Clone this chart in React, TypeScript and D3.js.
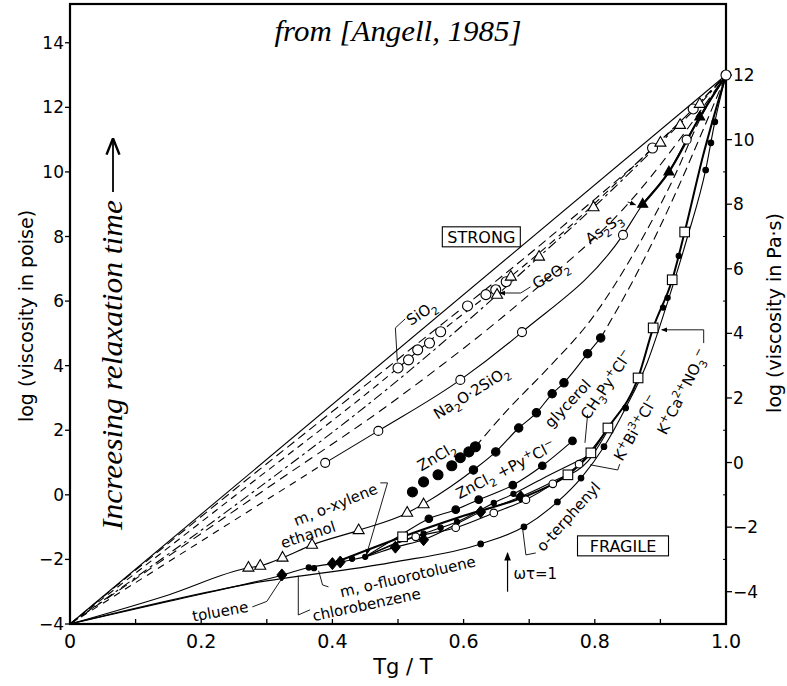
import React from "react";
import * as d3 from "d3";

const W = 787;
const H = 686;

// ---------- axes ----------
const xTicks = [0, 0.2, 0.4, 0.6, 0.8, 1.0];
const xTickLabels = ["0", "0.2", "0.4", "0.6", "0.8", "1.0"];
const xMinorTicks = [0.1, 0.3, 0.5, 0.7, 0.9];
const leftTicks = [-4, -2, 0, 2, 4, 6, 8, 10, 12, 14];
const rightTicks = [-4, -2, 0, 2, 4, 6, 8, 10, 12];
const rightMinor = [-3, -1, 1, 3, 5, 7, 9, 11];

// ---------- curves (x = Tg/T, y = log viscosity in poise) ----------
const sio2Line = [[0, -4], [1, 13]];
const strongDashA = [[0, -4], [0.25, 0.15], [0.5, 4.2], [0.75, 8.3], [0.9, 10.95], [1, 13]];
const sio2DataLine = [[0, -4], [0.25, -0.05], [0.5, 3.93], [0.565, 5.05], [0.65, 6.4], [0.75, 8.1], [0.888, 10.74], [0.95, 11.95], [1, 13]];
const geo2Line = [[0, -4], [0.25, -0.35], [0.5, 3.55], [0.651, 6.19], [0.715, 7.37], [0.798, 8.9], [0.9, 10.9], [0.96, 12.1], [1, 13]];
const strongDashB = [[0, -4], [0.3, 0.2], [0.5, 3.0], [0.7, 6.2], [0.85, 9.0], [1, 13]];
const na2oDashed = [[0, -4], [0.389, 0.99]];
const na2oLine = [[0.389, 0.99], [0.47, 1.98], [0.595, 3.56], [0.689, 5.04], [0.843, 8.05], [0.873, 9.0], [0.913, 10.0], [0.94, 11.0], [1, 13]];
const as2s3Line = [[0.873, 9.0], [0.913, 10.0], [0.96, 11.7], [1, 13]];
const zncl2Dashed = [[0.618, 1.49], [0.667, 2.63], [0.73, 3.95], [0.794, 5.42], [0.86, 7.5], [0.92, 9.8], [0.962, 11.7], [1, 13]];
const ethanolGlycerolLine = [[0, -4], [0.15, -3.1], [0.272, -2.26], [0.29, -2.2], [0.324, -1.95], [0.369, -1.55], [0.44, -1.1], [0.514, -0.56], [0.539, -0.28], [0.58, 0.25], [0.615, 0.77], [0.649, 1.33], [0.684, 2.07], [0.711, 2.54], [0.735, 3.13], [0.753, 3.47], [0.789, 4.37], [0.809, 4.86]];
const glycerolDashed = [[0.809, 4.86], [0.86, 6.7], [0.92, 9.2], [0.965, 11.3], [1, 13]];
const tolueneLine = [[0, -4], [0.15, -3.3], [0.324, -2.48], [0.364, -2.25], [0.4, -2.13], [0.45, -1.92], [0.496, -1.62], [0.539, -1.39], [0.626, -0.53], [0.687, -0.06], [0.74, 0.45], [0.79, 1.05], [0.82, 2.0]];
const fluoroLine = [[0.45, -1.92], [0.496, -1.5], [0.539, -1.2], [0.565, -1.02], [0.59, -0.84], [0.646, -0.25], [0.676, 0.03], [0.72, 0.5], [0.79, 1.2]];
const znPyLine = [[0.45, -1.92], [0.5, -1.3], [0.547, -0.74], [0.588, -0.46], [0.623, -0.15], [0.675, 0.3], [0.72, 0.9], [0.766, 1.67]];
const ch3PyLine = [[0.45, -1.92], [0.527, -1.3], [0.588, -1.02], [0.646, -0.56], [0.695, -0.15], [0.736, 0.34], [0.776, 0.95], [0.82, 2.07]];
const kCaLine = [[0.4, -2.13], [0.507, -1.3], [0.6, -0.65], [0.7, 0.0], [0.759, 0.62], [0.794, 1.3], [0.82, 2.07], [0.866, 3.62], [0.889, 5.17], [0.918, 6.66], [0.937, 8.14], [0.965, 10.5], [1, 13]];
const oTerphenylLine = [[0, -4], [0.275, -2.75], [0.489, -2.1], [0.626, -1.52], [0.692, -0.99], [0.743, -0.22], [0.779, 0.52], [0.814, 1.49], [0.847, 2.69], [0.88, 4.1], [0.911, 5.97], [0.94, 7.9], [0.969, 10.06], [0.983, 11.55], [1, 13]];

// ---------- data markers ----------
const sio2Circles = [[0.5, 3.93], [0.516, 4.18], [0.53, 4.49], [0.548, 4.7], [0.565, 5.05], [0.606, 5.85], [0.634, 6.2], [0.649, 6.35], [0.665, 6.6], [0.888, 10.74], [0.95, 11.95], [1, 13]];
const geo2Triangles = [[0.651, 6.19], [0.672, 6.75], [0.715, 7.37], [0.798, 8.9], [0.9, 10.9], [0.93, 11.45], [0.96, 12.1]];
const na2oCircles = [[0.389, 0.99], [0.47, 1.98], [0.595, 3.56], [0.689, 5.04], [0.843, 8.05], [0.94, 11.0]];
const as2s3Triangles = [[0.873, 9.0], [0.913, 10.0], [0.96, 11.7]];
const zncl2Dots = [[0.522, 0.09], [0.539, 0.4], [0.561, 0.62], [0.582, 0.9], [0.595, 1.15], [0.608, 1.33], [0.618, 1.49]];
const glycerolDots = [[0.615, 0.77], [0.649, 1.33], [0.684, 2.07], [0.711, 2.54], [0.735, 3.13], [0.753, 3.47], [0.789, 4.37], [0.809, 4.86]];
const ethanolTriangles = [[0.272, -2.26], [0.29, -2.2], [0.324, -1.95], [0.369, -1.55], [0.44, -1.1], [0.514, -0.56], [0.539, -0.3]];
const tolueneDiamonds = [[0.323, -2.48], [0.4, -2.13], [0.412, -2.08], [0.496, -1.62], [0.539, -1.39], [0.626, -0.53], [0.687, -0.06]];
const smallDots = [[0.364, -2.25], [0.372, -2.27], [0.45, -1.92], [0.43, -1.98], [0.539, -1.2], [0.565, -1.02], [0.59, -0.84], [0.646, -0.25], [0.676, 0.03], [0.904, 5.8], [0.911, 6.1], [0.928, 7.4]];
const ch3PyCircles = [[0.527, -1.3], [0.588, -1.02], [0.646, -0.56], [0.695, -0.15], [0.736, 0.34], [0.776, 0.95]];
const kCaSquares = [[0.507, -1.3], [0.759, 0.62], [0.794, 1.3], [0.82, 2.07], [0.866, 3.62], [0.889, 5.17], [0.918, 6.66], [0.937, 8.14]];
const znPyDots = [[0.547, -0.74], [0.588, -0.46], [0.623, -0.15], [0.675, 0.3], [0.72, 0.9], [0.766, 1.67]];
const oTerphenylDots = [[0.626, -1.52], [0.692, -0.99], [0.743, -0.22], [0.779, 0.52], [0.814, 1.49], [0.847, 2.69], [0.969, 10.06], [0.977, 10.9], [0.983, 11.55]];

// ---------- labels: [x, y, angle, fontSize, segments] ----------
type Seg = [string, string?];
const curveLabels: [number, number, number, number, Seg[]][] = [
  [0.536, 5.63, -33, 15, [["SiO"], ["2", "sub"]]],
  [0.733, 6.81, -30, 15, [["GeO"], ["2", "sub"]]],
  [0.814, 8.24, -35, 15, [["As"], ["2", "sub"], ["S"], ["3", "sub"]]],
  [0.612, 3.16, -32, 15, [["Na"], ["2", "sub"], ["O·2SiO"], ["2", "sub"]]],
  [0.559, 1.18, -30, 15, [["ZnCl"], ["2", "sub"]]],
  [0.664, 0.77, -27, 15, [["ZnCl"], ["2", "sub"], [" +Py"], ["+", "sup"], ["Cl"], ["−", "sup"]]],
  [0.759, 2.82, -47, 15, [["glycerol"]]],
  [0.818, 3.41, -56, 15, [["CH"], ["3", "sub"], ["Py"], ["+", "sup"], ["Cl"], ["−", "sup"]]],
  [0.863, 2.07, -60, 15, [["K"], ["+", "sup"], ["Bi"], ["3+", "sup"], ["Cl"], ["−", "sup"]]],
  [0.934, 3.19, -63, 15, [["K"], ["+", "sup"], ["Ca"], ["2+", "sup"], ["NO"], ["3", "sub"], ["−", "sup"]]],
  [0.76, -0.68, -48, 15, [["o-terphenyl"]]],
  [0.405, -0.31, -22, 15, [["m, o-xylene"]]],
  [0.363, -1.24, -18, 15, [["ethanol"]]],
  [0.229, -3.62, -10, 15, [["toluene"]]],
  [0.452, -3.41, -12, 15, [["chlorobenzene"]]],
  [0.515, -2.54, -13, 15, [["m, o-fluorotoluene"]]],
];
const boxLabels: [number, number, string][] = [
  [0.627, 7.99, "STRONG"],
  [0.843, -1.58, "FRAGILE"],
];
const leaders: number[][][] = [
  [[0.511, 5.45], [0.496, 5.17], [0.499, 4.12]],
  [[0.702, 6.44], [0.687, 6.25], [0.655, 6.25]],
  [[0.85, 9.07], [0.862, 8.98]],
  [[0.966, 4.7], [0.966, 5.11], [0.902, 5.11]],
  [[0.838, 0.95], [0.835, 0.77], [0.793, 0.93]],
  [[0.789, 2.48], [0.785, 1.61]],
  [[0.71, -1.8], [0.695, -1.86], [0.69, -1.05]],
  [[0.473, 0.37], [0.484, 0.37], [0.452, -1.85]],
  [[0.278, -3.47], [0.3, -3.3], [0.322, -2.62]],
  [[0.366, -3.56], [0.348, -3.72], [0.348, -2.5]],
  [[0.394, -2.85], [0.385, -2.79], [0.379, -2.35]],
];
const arrowLeaders = [1, 2, 3, 7];
const omegaArrow = [[0.667, -3.0], [0.667, -1.8]];

const x = d3.scaleLinear().domain([0, 1]).range([70, 726]);
const y = d3.scaleLinear().domain([-4, 15.2]).range([624, 4]);

const smooth = d3.line<number[]>().x((d) => x(d[0])).y((d) => y(d[1])).curve(d3.curveMonotoneX);
const straight = d3.line<number[]>().x((d) => x(d[0])).y((d) => y(d[1]));

const SANS = "'DejaVu Sans', 'Liberation Sans', sans-serif";
const SERIF = "'Liberation Serif', 'Times New Roman', serif";

function Rich({ segs, size }: { segs: Seg[]; size: number }) {
  let shift = 0;
  return (
    <>
      {segs.map(([t, k], i) => {
        const target = k === "sub" ? size * 0.3 : k === "sup" ? -size * 0.4 : 0;
        const dy = target - shift;
        shift = target;
        return (
          <tspan key={i} dy={dy} fontSize={k ? size * 0.72 : size}>
            {t}
          </tspan>
        );
      })}
    </>
  );
}

function Marker({ p, kind, r, filled }: { p: number[]; kind: string; r: number; filled: boolean }) {
  const cx = x(p[0]);
  const cy = y(p[1]);
  const fill = filled ? "#000" : "#fff";
  if (kind === "circle") return <circle cx={cx} cy={cy} r={r} fill={fill} stroke="#000" strokeWidth={1.1} />;
  if (kind === "square") return <rect x={cx - r} y={cy - r} width={2 * r} height={2 * r} fill={fill} stroke="#000" strokeWidth={1.1} />;
  if (kind === "triangle")
    return <path d={`M${cx},${cy - r * 1.15} L${cx + r},${cy + r * 0.6} L${cx - r},${cy + r * 0.6} Z`} fill={fill} stroke="#000" strokeWidth={1.1} />;
  return <path d={`M${cx},${cy - r * 1.2} L${cx + r},${cy} L${cx},${cy + r * 1.2} L${cx - r},${cy} Z`} fill={fill} stroke="#000" strokeWidth={1} />;
}

export default function App() {
  const lines: [number[][], number, string | undefined, boolean][] = [
    [sio2Line, 1.1, undefined, false],
    [strongDashA, 1.1, "9,5", true],
    [sio2DataLine, 1.1, "7,5", true],
    [geo2Line, 1.1, "10,4,3,4", true],
    [strongDashB, 1.1, "9,6", true],
    [na2oDashed, 1.1, "7,6", false],
    [na2oLine, 1.1, undefined, true],
    [as2s3Line, 2.2, undefined, true],
    [zncl2Dashed, 1.1, "9,5", true],
    [ethanolGlycerolLine, 1.1, undefined, true],
    [glycerolDashed, 1.1, "9,5", true],
    [tolueneLine, 1.1, undefined, true],
    [fluoroLine, 1.1, undefined, true],
    [znPyLine, 1.1, undefined, true],
    [ch3PyLine, 1.1, undefined, true],
    [kCaLine, 2.0, undefined, true],
    [oTerphenylLine, 1.1, undefined, true],
  ];
  const markers: [number[][], string, number, boolean][] = [
    [sio2Circles, "circle", 5, false],
    [geo2Triangles, "triangle", 5.5, false],
    [na2oCircles, "circle", 4.5, false],
    [as2s3Triangles, "triangle", 5, true],
    [zncl2Dots, "circle", 5, true],
    [glycerolDots, "circle", 4.2, true],
    [ethanolTriangles, "triangle", 5.5, false],
    [tolueneDiamonds, "diamond", 5, true],
    [smallDots, "circle", 2.6, true],
    [ch3PyCircles, "circle", 3.8, false],
    [kCaSquares, "square", 4.8, false],
    [znPyDots, "circle", 3.8, true],
    [oTerphenylDots, "circle", 2.8, true],
  ];
  return (
    <svg width={W} height={H} viewBox={`0 0 ${W} ${H}`} style={{ display: "block", position: "absolute", left: 0, top: 0, background: "#fff" }}>
      <defs>
        <marker id="ah" viewBox="0 0 10 10" refX="9" refY="5" markerWidth="7" markerHeight="7" orient="auto-start-reverse">
          <path d="M0,1 L10,5 L0,9 Z" fill="#000" />
        </marker>
        <marker id="ah2" viewBox="0 0 10 10" refX="9" refY="5" markerWidth="9" markerHeight="9" orient="auto-start-reverse">
          <path d="M0,1 L10,5 L0,9" fill="none" stroke="#000" strokeWidth="1.5" />
        </marker>
      </defs>
      <rect x={0} y={0} width={W} height={H} fill="#fff" />

      {/* frame */}
      <rect x={x(0)} y={y(15.2)} width={x(1) - x(0)} height={y(-4) - y(15.2)} fill="none" stroke="#000" strokeWidth={2.2} />

      {/* left axis */}
      {leftTicks.map((t) => (
        <g key={"l" + t}>
          <line x1={x(0) - 5} x2={x(0)} y1={y(t)} y2={y(t)} stroke="#000" strokeWidth={1.3} />
          <text x={x(0) - 6} y={y(t) + 6} textAnchor="end" fontFamily={SANS} fontSize={17}>
            {t < 0 ? "−" + Math.abs(t) : t}
          </text>
        </g>
      ))}
      {/* right axis (Pa·s = poise − 1) */}
      {rightTicks.map((t) => (
        <g key={"r" + t}>
          <line x1={x(1)} x2={x(1) + 6} y1={y(t + 1)} y2={y(t + 1)} stroke="#000" strokeWidth={1.3} />
          <text x={x(1) + 7} y={y(t + 1) + 6} textAnchor="start" fontFamily={SANS} fontSize={17}>
            {t < 0 ? "−" + Math.abs(t) : t}
          </text>
        </g>
      ))}
      {rightMinor.map((t) => (
        <line key={"rm" + t} x1={x(1) - 3} x2={x(1)} y1={y(t + 1)} y2={y(t + 1)} stroke="#000" strokeWidth={1} />
      ))}
      {/* bottom axis */}
      {xTicks.map((t, i) => (
        <g key={"b" + t}>
          <line x1={x(t)} x2={x(t)} y1={y(-4)} y2={y(-4) - 5} stroke="#000" strokeWidth={1.3} />
          <text x={x(t)} y={648} textAnchor="middle" fontFamily={SANS} fontSize={19}>
            {xTickLabels[i]}
          </text>
        </g>
      ))}
      {xMinorTicks.map((t) => (
        <line key={"bm" + t} x1={x(t)} x2={x(t)} y1={y(-4)} y2={y(-4) - 5} stroke="#000" strokeWidth={1.3} />
      ))}

      <text x={403} y={674} textAnchor="middle" fontFamily={SANS} fontSize={21}>
        Tg / T
      </text>
      <text transform="translate(33,316) rotate(-90)" textAnchor="middle" fontFamily={SANS} fontSize={19}>
        log (viscosity in poise)
      </text>
      <text transform="translate(781,313) rotate(-90)" textAnchor="middle" fontFamily={SANS} fontSize={19}>
        log (viscosity in Pa·s)
      </text>

      {/* title and side note */}
      <text x={398} y={41} textAnchor="middle" fontFamily={SERIF} fontStyle="italic" fontSize={29} textLength={247} lengthAdjust="spacingAndGlyphs">
        from [Angell, 1985]
      </text>
      <text transform="translate(122,530) rotate(-90)" textAnchor="start" fontFamily={SERIF} fontStyle="italic" fontSize={30} textLength={330} lengthAdjust="spacingAndGlyphs">
        Increesing relaxation time
      </text>
      <line x1={113} x2={113} y1={192} y2={140} stroke="#000" strokeWidth={1.8} markerEnd="url(#ah2)" />

      {/* curves */}
      {lines.map(([pts, sw, dash, curved], i) => (
        <path key={"c" + i} d={(curved ? smooth : straight)(pts) || ""} fill="none" stroke="#000" strokeWidth={sw} strokeDasharray={dash} />
      ))}

      {/* leaders */}
      {leaders.map((pts, i) => (
        <path
          key={"ld" + i}
          d={straight(pts) || ""}
          fill="none"
          stroke="#000"
          strokeWidth={0.9}
          markerEnd={arrowLeaders.includes(i) ? "url(#ah)" : undefined}
        />
      ))}
      <path d={straight(omegaArrow) || ""} stroke="#000" strokeWidth={1.2} markerEnd="url(#ah)" />
      <text x={x(0.676)} y={y(-2.41) + 6} fontFamily={SANS} fontSize={15}>
        ωτ=1
      </text>

      {/* markers */}
      {markers.map(([pts, kind, r, filled], i) => (
        <g key={"m" + i}>
          {pts.map((p, j) => (
            <Marker key={j} p={p} kind={kind} r={r} filled={filled} />
          ))}
        </g>
      ))}

      {/* curve labels */}
      {curveLabels.map(([lx, ly, ang, fs, segs], i) => (
        <g key={"t" + i} transform={`translate(${x(lx)},${y(ly)}) rotate(${ang})`}>
          <text x={0} y={5} textAnchor="middle" fontFamily={SANS} fontSize={fs}>
            <Rich segs={segs} size={fs} />
          </text>
        </g>
      ))}
      {boxLabels.map(([bx, by, s]) => (
        <g key={s} transform={`translate(${x(bx)},${y(by)})`}>
          <rect x={-s.length * 6.5} y={-10} width={s.length * 13} height={20} fill="#fff" stroke="#000" strokeWidth={1.1} />
          <text x={0} y={6} textAnchor="middle" fontFamily={SANS} fontSize={16}>
            {s}
          </text>
        </g>
      ))}
    </svg>
  );
}
